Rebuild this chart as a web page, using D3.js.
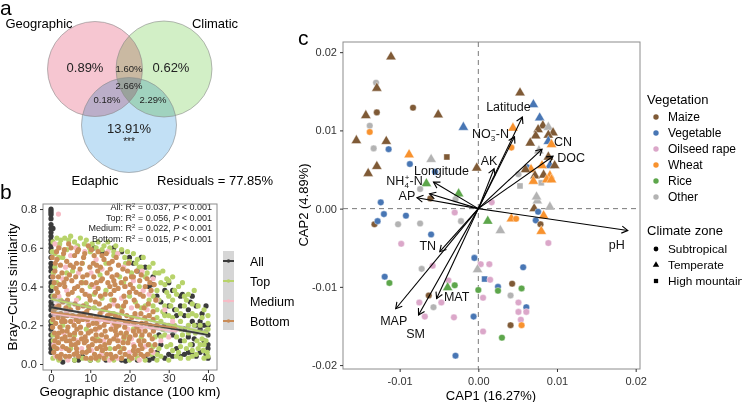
<!DOCTYPE html>
<html><head><meta charset="utf-8">
<script src="https://cdn.jsdelivr.net/npm/d3@7"></script>
<style>
body{margin:0;background:#fff;}
svg{font-family:"Liberation Sans",Arial,sans-serif;}
</style></head><body>
<svg id="fig" width="742" height="402"></svg>
<script>
// ---------------- DATA ----------------
// Panel a: variation partitioning
const vennSets = ["Geographic", "Climatic", "Edaphic"];
const vennRegions = ["G", "C", "E", "GC", "GE", "CE", "GCE"];
const vennPercents = [0.89, 0.62, 13.91, 1.60, 0.18, 2.29, 2.66];
const edaphicSig = "***";
const residualPct = 77.85;

// Panel b: distance-decay
const ddSeries = ["All", "Top", "Medium", "Bottom"];
const ddR2 = [0.037, 0.056, 0.022, 0.015];
const ddFitStart = [0.293, 0.335, 0.262, 0.268];
const ddFitEnd = [0.150, 0.160, 0.167, 0.186];
const ddFitXmax = [40, 40, 32, 32];
const ddCI = [[0.010, 0.004, 0.012], [0.014, 0.006, 0.016], [0.014, 0.006, 0.016], [0.014, 0.006, 0.016]];
const ddXTicks = [0, 10, 20, 30, 40];
const ddYTicks = [0, 0.2, 0.4, 0.6, 0.8];

const allPts = [
[0,0.80],[0,0.79],[0,0.78],[0,0.77],[0,0.75],[0,0.72],[0,0.70],[0,0.68],[0,0.66],[0,0.64],[0,0.62],[0,0.60],[0,0.58],[0,0.55],[0,0.52],[0,0.50],[0,0.48],[0,0.45],[0,0.42],[0,0.40],[0,0.38],[0,0.35],[0,0.32],[0,0.30],[0,0.28],[0,0.25],[0,0.22],[0,0.20],[0,0.18],[0,0.15],[0,0.12],[0,0.10],[0,0.08],[0,0.06],
[30,0.42],[31,0.38],[33,0.30],[34,0.25],[35,0.28],[36,0.22],[37,0.30],[38,0.18],[39,0.12],[40,0.08],[40,0.10],[39.5,0.05],[38,0.06],[36,0.10],[35,0.14],[33,0.12],[32,0.08],[30,0.05],[28,0.10],[27,0.35],[26,0.45],[24,0.50],[22,0.48],[20,0.55],[18,0.58],[16,0.60],[29,0.20],[31,0.15],[26,0.03],[22,0.02],[18,0.02],[14,0.02],[10,0.02],[6,0.02],[3,0.01],[2,0.03],[24,0.04],[20,0.03],[12,0.03],[8,0.04],[16,0.03],[34,0.05],[37,0.04],[36,0.35],[23,0.55],[21,0.52],[25,0.40],[28,0.32],[29,0.38],[32,0.25],[34,0.18],[38,0.22],[35,0.06],[40,0.15],[39,0.20],[40,0.03],[36.5,0.13],[33.5,0.36],[31.5,0.28],[27.5,0.15],[11,0.6],[13,0.58],[7,0.02],[19,0.015],[25,0.02],
[0.5,0.7],[0.5,0.5],[0.4,0.3],[0.5,0.1],[33,0.35],[35.5,0.32],[37,0.2],[38.5,0.26],[39.5,0.3],[40,0.2],[36,0.05],[33,0.04],[31,0.04],[29,0.03],[27,0.06],[30,0.3],[31,0.19],[29,0.26],[26,0.41]
];
const topPts = [
[0.5,0.63],[1.5,0.65],[2.5,0.64],[3.5,0.65],[4.5,0.64],[6,0.63],[7.5,0.65],[9,0.64],[10.5,0.62],[12,0.63],[13.5,0.61],[15,0.60],[16.5,0.61],[18,0.59],[19.5,0.58],[21,0.57],[22,0.54],[23.5,0.55],[25,0.50],[26,0.52],[27.5,0.47],[28.5,0.48],[30,0.43],[31,0.45],[32.5,0.40],[33.5,0.42],[35,0.36],[36.5,0.38],[37.5,0.30],[39,0.28],[40,0.25],[40,0.21],
[26,0.35],[27,0.28],[28,0.22],[29,0.30],[30,0.25],[31,0.33],[31.5,0.20],[32,0.28],[33,0.22],[33.5,0.15],[34,0.30],[35,0.20],[35.5,0.10],[36,0.26],[36.8,0.16],[37.5,0.08],[38,0.20],[38.5,0.13],[39,0.10],[39.5,0.17],[40,0.04],[39,0.03],[37,0.05],[34.5,0.08],[32.5,0.06],[30.5,0.10],[29,0.15],[27.5,0.08],[26.5,0.14],[25.5,0.05],
[0.5,0.03],[2,0.02],[4,0.03],[6,0.02],[8,0.03],[10,0.02],[12,0.02],[14,0.03],[16,0.02],[18,0.03],[20,0.02],[22,0.03],[24,0.02],[1,0.08],[9.5,0.07],[18,0.08],[28,0.04],
[1,0.50],[3,0.55],[5.5,0.48],[8,0.52],[10,0.58],[12.5,0.46],[14,0.52],[16,0.56],[17.5,0.45],[19,0.52],[20.5,0.47],[22.5,0.50],[24,0.45],[0.5,0.35],[2.5,0.33],[4.5,0.30],[7,0.34],[9,0.31],[11,0.29],[13,0.34],[15.5,0.33],[18,0.29],[20,0.35],[21.5,0.32],[23,0.29],[25,0.33],[27,0.38],[28,0.42],[3,0.20],[6,0.15],[9,0.18],[11.8,0.13],[15,0.08],[18.5,0.13],[21,0.18],[23,0.14],[25,0.25],[26.8,0.19],[29.5,0.37],[0.6,0.12],[0.3,0.22],[0.4,0.40],[0.3,0.58],
[2,0.61],[5,0.66],[8.5,0.62],[11.5,0.6],[14.5,0.63],[17,0.57],[20,0.53],[24.5,0.47],[29.5,0.44],[32,0.36],[34.5,0.33],[37,0.25],[38.8,0.07],[36,0.04],[33,0.03],[30,0.02],[27,0.02],[29,0.25],[30.5,0.3],[27.5,0.33],[33,0.18],[35,0.25],
[1,0.57],[2.2,0.62],[4,0.59],[6.8,0.61],[9.8,0.6],[13,0.59],[16,0.58],[18.8,0.55],[21.6,0.52],[23,0.5],[26.5,0.47],[29,0.41],[31.5,0.38],[34,0.35],[36,0.31],[38.5,0.24],[40,0.18],[39.5,0.12],[38,0.1],[36.5,0.2],[35,0.16],[33,0.26],[31,0.24],[30,0.35],[28.5,0.27],[27,0.24],[28.5,0.18],[30,0.2],[32,0.14],[34,0.12],[36,0.07],[33,0.09],[31,0.07],[29.5,0.09],[28,0.14],[26,0.09],[27,0.05],[0.5,0.15],[0.8,0.28],[0.6,0.47],[1.5,0.42],[5,0.08],[13,0.06],[21.5,0.05],[25,0.1],[24,0.3],[26,0.3],[8,0.42],[11,0.36],[16,0.26],[19,0.15],[4,0.47],[10,0.4],[14,0.38],[18.5,0.42],[22.5,0.4],[2,0.55],[37.2,0.12],[39.8,0.06],[35,0.03],[32,0.04]
];
const medPts = [
[1.9,0.774],[1,0.62],[2,0.60],[3,0.44],[5,0.56],[7,0.47],[8.6,0.58],[11.5,0.54],[13,0.49],[15.5,0.45],[17,0.57],[19,0.40],[21,0.43],[23.5,0.38],[25,0.36],[27,0.33],[29,0.28],[31,0.22],[32,0.18],[30,0.14],[28,0.12],[26,0.06],[24,0.09],[2,0.35],[4,0.38],[6.5,0.33],[9,0.36],[11,0.40],[13,0.27],[16,0.31],[18,0.34],[20.5,0.29],[22,0.24],[1,0.25],[3.2,0.16],[5.5,0.22],[7.8,0.08],[9.4,0.22],[11.8,0.18],[13.4,0.12],[15.8,0.20],[17.5,0.12],[19.6,0.18],[21,0.10],[23,0.18],[25.6,0.19],[1.2,0.04],[4.3,0.02],[6.8,0.12],[10.3,0.07],[12.8,0.05],[14.9,0.02],[17,0.03],[20,0.06],[22.5,0.02],[0.7,0.10],[2.7,0.08],[0.5,0.45],[3.7,0.50],[6.3,0.60],[10.2,0.47],[14.5,0.58],[18.5,0.50],[23.2,0.48],[26,0.44],[1.5,0.3],[4,0.27],[8,0.26],[12,0.22],[16.5,0.14],[20.5,0.13],[24.5,0.28]
];
const botPts = [
[2,0.60],[4.5,0.62],[7,0.59],[9.5,0.61],[12,0.58],[3.2,0.57],[6,0.56],
[1.5,0.54],[4,0.53],[8.3,0.55],[10.8,0.52],[13.5,0.54],[15.6,0.53],[17.2,0.51],[5.7,0.50],
[1,0.48],[2.8,0.47],[7.4,0.49],[9.2,0.46],[11.9,0.48],[14.3,0.47],[16.8,0.46],[19.5,0.48],[21,0.45],[3.9,0.44],
[0.8,0.42],[2.2,0.41],[5.3,0.43],[6.8,0.40],[8.9,0.42],[10.4,0.41],[12.7,0.43],[15,0.40],[17.9,0.42],[20.2,0.41],[22.6,0.43],[24,0.40],
[1.7,0.37],[4.4,0.36],[7.9,0.38],[9.8,0.35],[11.3,0.37],[13.8,0.36],[16.1,0.38],[18.6,0.35],[21.7,0.37],[23.5,0.35],[25.5,0.38],
[3,0.32],[6.1,0.31],[10,0.33],[14.9,0.30],[19,0.32],[24.8,0.31],
[0.6,0.27],[2.5,0.26],[5,0.28],[7.2,0.25],[9.1,0.27],[11.6,0.24],[13.2,0.28],[16.4,0.25],[18.1,0.27],[20.6,0.24],[22.9,0.26],[26,0.27],
[1.2,0.21],[3.6,0.22],[5.9,0.20],[8.1,0.23],[10.7,0.21],[12.4,0.19],[14.6,0.22],[17.3,0.20],[19.8,0.22],[21.9,0.19],[24.2,0.21],[27,0.20],
[0.9,0.16],[2.9,0.17],[4.8,0.15],[6.6,0.18],[8.7,0.14],[10.2,0.17],[12.9,0.15],[15.3,0.18],[17.8,0.16],[20.1,0.14],[22.4,0.17],[25.1,0.15],
[1.9,0.11],[3.9,0.12],[6.2,0.10],[7.8,0.13],[9.6,0.09],[11.4,0.12],[13.7,0.10],[16,0.13],[18.4,0.11],[21.2,0.09],[23.7,0.12],[26.5,0.10],
[0.7,0.06],[2.6,0.05],[4.6,0.07],[7,0.04],[9,0.06],[11.1,0.05],[13.1,0.07],[15.2,0.05],[17.6,0.06],[19.9,0.04],[22.2,0.07],[24.6,0.05],
[1.4,0.58],[5.1,0.60],[8.6,0.57],[11,0.56],[14.1,0.57],[2.4,0.51],[6.5,0.52],[9.9,0.50],[12.6,0.50],[15.1,0.49],[18.3,0.49],[0.5,0.45],[4.7,0.46],[8.1,0.45],[13.1,0.44],[16,0.43],[19,0.44],[23,0.46],[1.3,0.39],[3.5,0.40],[6,0.39],[12,0.39],[14.5,0.42],[17.1,0.39],[20.9,0.39],[26.3,0.41],[2,0.30],[8.2,0.30],[12.3,0.31],[17,0.30],[22,0.30],[1.8,0.24],[4.1,0.25],[6.4,0.23],[10.1,0.25],[15.2,0.26],[19.3,0.25],[23.9,0.24],[0.4,0.19],[2.3,0.19],[4.3,0.19],[7.5,0.19],[9.6,0.20],[13.5,0.20],[16.2,0.21],[18.8,0.19],[23.1,0.21],[26,0.23],[1.6,0.14],[3.6,0.14],[5.8,0.13],[7.6,0.16],[11.5,0.15],[14.1,0.14],[16.7,0.15],[19.2,0.16],[21.5,0.15],[24,0.17],[0.8,0.09],[3,0.09],[5.2,0.10],[8.5,0.11],[10.5,0.10],[12.6,0.09],[14.8,0.11],[17.2,0.09],[19.6,0.11],[22.8,0.10],[25.8,0.13],[1.6,0.04],[3.7,0.04],[5.9,0.05],[8,0.06],[10.2,0.03],[12.3,0.04],[14.2,0.05],[16.5,0.04],[18.9,0.05],[21.4,0.05],[23.6,0.04],
[0.3,0.55],[3.4,0.59],[6.7,0.58],[10.3,0.59],[13,0.56],[16.6,0.55],[19.8,0.52],[1.1,0.52],[4.9,0.51],[7.9,0.52],[11.6,0.51],[14.8,0.52],[21.8,0.48],[24.5,0.44],[1.9,0.45],[6.3,0.45],[10.9,0.45],[15.6,0.45],[20.5,0.45],[3.3,0.42],[7.7,0.42],[11.6,0.42],[16.3,0.41],[18.8,0.40],[25.2,0.42],[0.9,0.35],[5.4,0.37],[8.7,0.36],[12.6,0.35],[15.2,0.36],[20,0.37],[22.7,0.36],[4.2,0.33],[11.3,0.32],[16.1,0.33],[21.2,0.33],[26.7,0.33],[1.3,0.29],[3.8,0.29],[6.9,0.29],[9.7,0.29],[14,0.29],[18.5,0.3],[23.7,0.29],[3.1,0.24],[5.5,0.25],[8.4,0.26],[12.5,0.26],[14.4,0.25],[17.4,0.24],[21.4,0.26],[25,0.25],[0.5,0.23],[2.7,0.22],[5,0.22],[7,0.22],[9.3,0.23],[11.6,0.21],[13.9,0.22],[16.6,0.19],[19,0.21],[21.1,0.21],[25.3,0.2],[2,0.16],[4.1,0.17],[6,0.16],[9.5,0.16],[11.3,0.18],[13.8,0.17],[16.4,0.17],[18.6,0.14],[21,0.17],[23.2,0.15],[26.1,0.17],[1,0.12],[2.8,0.13],[4.8,0.12],[6.9,0.11],[9,0.12],[10.6,0.13],[12.5,0.12],[15,0.12],[17,0.12],[19.9,0.13],[22.4,0.12],[24.8,0.1],[1.5,0.08],[3.9,0.08],[6.5,0.08],[9.7,0.07],[11.7,0.08],[13.9,0.08],[16.3,0.08],[18.6,0.08],[21,0.07],[23.2,0.08],[25.5,0.07],[2.3,0.03],[4.7,0.04],[6.6,0.06],[8.9,0.03],[11.4,0.03],[13.5,0.03],[15.6,0.03],[18,0.03],[20.6,0.03],[22.9,0.05]
];

// Panel c: CAP ordination
const vegetation = ["Maize", "Vegetable", "Oilseed rape", "Wheat", "Rice", "Other"];
const climateZones = ["Subtropical", "Temperate", "High mountain"];
// [CAP1, CAP2, vegetation index, climate zone index]
const capSamples = [
[-0.0111,0.0194,0,1],[-0.0130,0.0161,5,0],[-0.0129,0.0154,0,1],[-0.0083,0.0129,0,0],[-0.0143,0.0119,0,1],[-0.0129,0.0123,0,0],[-0.0051,0.0120,0,1],[-0.0138,0.0106,5,0],[-0.0138,0.0098,3,0],[-0.0019,0.0104,1,1],
[-0.0155,0.0087,0,1],[-0.0117,0.0086,0,1],[-0.0133,0.0077,5,0],[-0.0114,0.0076,1,0],[-0.0088,0.0069,3,1],[-0.0060,0.0063,5,1],[-0.0040,0.0066,0,2],[-0.0087,0.0057,1,0],[-0.0129,0.0054,0,1],[-0.0140,0.0045,0,1],
[-0.0002,0.0052,0,1],[-0.0055,0.0047,1,0],[-0.0066,0.0032,4,1],[-0.0074,0.0025,5,0],[-0.0061,0.0013,0,0],[-0.0025,0.0019,4,1],[-0.0029,0.0012,5,0],[-0.0124,0.0008,1,0],[-0.0030,-0.0005,2,0],[-0.0120,-0.0007,1,0],
[-0.0092,-0.0009,1,0],[-0.0132,-0.0020,0,0],[-0.0128,-0.0016,1,0],[-0.0102,-0.0020,5,0],[-0.0074,-0.0019,5,0],[-0.0022,-0.0016,5,0],[0.0012,-0.0016,4,1],[-0.0060,-0.0033,1,0],[-0.0098,-0.0045,2,0],[-0.0005,-0.0063,1,0],
[0.0003,-0.0071,2,0],[0.0014,-0.0071,2,0],[-0.0072,-0.0077,5,0],[-0.0058,-0.0073,2,0],[-0.0001,-0.0078,5,1],[0.0008,-0.0090,1,2],[0.0015,-0.0091,2,0],[-0.0119,-0.0087,1,0],[-0.0113,-0.0095,4,0],[-0.0038,-0.0092,2,0],
[-0.0030,-0.0098,4,0],[-0.0039,-0.0101,4,1],[0.0000,-0.0104,4,0],[-0.0063,-0.0111,0,0],[-0.0075,-0.0120,2,0],[-0.0047,-0.0120,2,0],[-0.0057,-0.0126,5,0],[0.0006,-0.0114,2,0],[-0.0068,-0.0138,2,0],[-0.0031,-0.0139,2,0],
[-0.0006,-0.0138,1,0],[0.0006,-0.0157,2,0],[-0.0029,-0.0188,1,0],[0.0017,0.0008,2,0],[0.0071,0.0000,0,1],[0.0075,0.0010,5,1],[0.0091,0.0002,5,1],[0.0076,-0.0004,1,0],[0.0083,-0.0009,3,1],[0.0042,-0.0013,3,1],
[0.0048,-0.0013,3,0],[0.0073,-0.0015,1,0],[0.0079,-0.0020,0,0],[0.0028,-0.0028,5,1],[0.0080,-0.0029,3,1],[0.0089,-0.0044,2,0],[0.0057,-0.0075,1,0],[0.0043,-0.0096,0,0],[0.0025,-0.0100,1,0],[0.0025,-0.0105,4,0],
[0.0055,-0.0102,4,0],[0.0041,-0.0111,5,0],[0.0051,-0.0120,2,0],[0.0061,-0.0126,1,0],[0.0051,-0.0132,2,0],[0.0061,-0.0132,2,0],[0.0054,-0.0142,2,0],[0.0041,-0.0149,0,0],[0.0055,-0.0149,3,0],[0.0030,-0.0165,4,0],
[0.0053,0.0148,0,1],[0.0070,0.0133,1,1],[0.0078,0.0116,1,1],[0.0044,0.0103,3,1],[0.0082,0.0106,0,1],[0.0089,0.0104,5,1],[0.0076,0.0101,0,1],[0.0095,0.0097,0,1],[0.0073,0.0093,0,1],[0.0089,0.0094,0,1],
[0.0066,0.0084,0,1],[0.0089,0.0086,1,1],[0.0093,0.0082,3,1],[0.0042,0.0078,3,0],[0.0077,0.0074,5,1],[0.0089,0.0066,0,1],[0.0091,0.0055,1,1],[0.0097,0.0055,0,1],[0.0081,0.0055,3,1],[0.0062,0.0053,1,0],
[0.0067,0.0050,3,1],[0.0060,0.0050,0,1],[0.0051,0.0044,5,0],[0.0072,0.0042,0,1],[0.0083,0.0043,0,1],[0.0091,0.0042,3,1],[0.0070,0.0035,3,1],[0.0080,0.0033,5,2],[0.0087,0.0037,3,1],[0.0093,0.0037,3,1],
[0.0053,0.0029,5,2],[0.0074,0.0015,5,1]
];
const envVars = ["Latitude", "NO3-N", "AK", "CN", "DOC", "pH", "Longitude", "NH4-N", "AP", "TN", "MAP", "SM", "MAT"];
const envCAP1 = [0.0056, 0.0046, 0.0020, 0.0081, 0.0095, 0.0190, -0.0057, -0.0062, -0.0078, -0.0049, -0.0105, -0.0076, -0.0053];
const envCAP2 = [0.0117, 0.0092, 0.0051, 0.0076, 0.0067, -0.0028, 0.0034, 0.0019, 0.0014, -0.0055, -0.0128, -0.0136, -0.0115];
const capXTicks = [-0.01, 0, 0.01, 0.02];
const capYTicks = [-0.02, -0.01, 0, 0.01, 0.02];

// ---------------- STYLE ----------------
const svg = d3.select("#fig");
const FONT = "'Liberation Sans', Arial, sans-serif";
const frameCol = "#8c8c8c";
const tickTextCol = "#333";

function fmtMinus(f) { return d => f(d).replace("\u2212", "-"); }

// ---------------- PANEL A (Venn) ----------------
const gA = svg.append("g");
gA.append("text").attr("x", 0).attr("y", 15).attr("font-size", 21).text("a");
const circ = [
  {cx: 95, cy: 69, r: 47.5, fill: "#f6c6d1"},
  {cx: 164, cy: 69, r: 48, fill: "#d2efc6"},
  {cx: 129, cy: 125, r: 47.5, fill: "#c2e0f5"}
];
gA.selectAll("circle.v").data(circ).join("circle")
  .attr("cx", d => d.cx).attr("cy", d => d.cy).attr("r", d => d.r)
  .attr("fill", d => d.fill).style("mix-blend-mode", "multiply");
gA.selectAll("circle.o").data(circ).join("circle")
  .attr("cx", d => d.cx).attr("cy", d => d.cy).attr("r", d => d.r)
  .attr("fill", "none").attr("stroke", "#8a8a8a").attr("stroke-width", 0.6);
const vennPos = {G: [85, 72, 13], C: [171, 72, 13], E: [129, 133, 13], GC: [129, 72, 9.5], GE: [107, 103, 9.5], CE: [153, 103, 9.5], GCE: [129, 89, 9.5]};
vennRegions.forEach((r, i) => {
  const p = vennPos[r];
  gA.append("text").attr("x", p[0]).attr("y", p[1]).attr("font-size", p[2])
    .attr("text-anchor", "middle").attr("fill", "#222").text(vennPercents[i].toFixed(2) + "%");
});
gA.append("text").attr("x", 129).attr("y", 145).attr("font-size", 10).attr("text-anchor", "middle").attr("fill", "#222").text(edaphicSig);
gA.append("text").attr("x", 39).attr("y", 28).attr("font-size", 13).attr("text-anchor", "middle").text(vennSets[0]);
gA.append("text").attr("x", 215).attr("y", 28).attr("font-size", 13).attr("text-anchor", "middle").text(vennSets[1]);
gA.append("text").attr("x", 95).attr("y", 185).attr("font-size", 13).attr("text-anchor", "middle").text(vennSets[2]);
gA.append("text").attr("x", 157).attr("y", 185).attr("font-size", 13).text("Residuals = " + residualPct.toFixed(2) + "%");

// ---------------- PANEL B ----------------
const gB = svg.append("g");
gB.append("text").attr("x", 0).attr("y", 199).attr("font-size", 21).text("b");
const bx = d3.scaleLinear().domain([-2.04, 42.3]).range([43, 217]);
const by = d3.scaleLinear().domain([-0.031, 0.826]).range([370, 204]);
const ddColors = ["#3b3b3b", "#b8d36b", "#f6bcc6", "#c98c58"];
const ptsBySeries = [allPts, topPts, medPts, botPts];
const clipB = svg.append("defs").append("clipPath").attr("id", "clipB");
clipB.append("rect").attr("x", 43).attr("y", 204).attr("width", 174).attr("height", 166);
const plotB = gB.append("g").attr("clip-path", "url(#clipB)");
ptsBySeries.forEach((pts, si) => {
  plotB.append("g").selectAll("circle").data(pts).join("circle")
    .attr("cx", d => bx(d[0])).attr("cy", d => by(d[1])).attr("r", 2.6)
    .attr("fill", ddColors[si]);
});
// ribbons and lines
ddSeries.forEach((s, i) => {
  const x0 = 0, x1 = ddFitXmax[i], xm = (x0 + x1) / 2;
  const f = x => ddFitStart[i] + (ddFitEnd[i] - ddFitStart[i]) * (x - x0) / (x1 - x0);
  const ci = ddCI[i];
  const xs = d3.range(0, 21).map(k => x0 + (x1 - x0) * k / 20);
  const hw = x => { const t = (x - xm) / (x1 - xm); return ci[1] + (ci[0] - ci[1]) * t * t; };
  plotB.append("path").datum(xs)
    .attr("d", d3.area().x(d => bx(d)).y0(d => by(f(d) - hw(d))).y1(d => by(f(d) + hw(d))))
    .attr("fill", "#9a9a9a").attr("opacity", 0.45);
});
ddSeries.forEach((s, i) => {
  plotB.append("line").attr("x1", bx(0)).attr("x2", bx(ddFitXmax[i]))
    .attr("y1", by(ddFitStart[i])).attr("y2", by(ddFitEnd[i]))
    .attr("stroke", ddColors[i]).attr("stroke-width", 1.8);
});
// annotations
ddSeries.forEach((s, i) => {
  const t = gB.append("text").attr("x", 212).attr("y", 210 + i * 10.7).attr("font-size", 9).attr("text-anchor", "end").attr("fill", "#222");
  t.append("tspan").text(s + ": R");
  t.append("tspan").attr("font-size", 6).attr("dy", -3).text("2");
  t.append("tspan").attr("dy", 3).text(" = " + ddR2[i].toFixed(3) + ", ");
  t.append("tspan").attr("font-style", "italic").text("P");
  t.append("tspan").text(" < 0.001");
});
gB.append("rect").attr("x", 43).attr("y", 204).attr("width", 174).attr("height", 166).attr("fill", "none").attr("stroke", frameCol).attr("stroke-width", 1);
const axBL = gB.append("g").attr("transform", "translate(43,0)")
  .call(d3.axisLeft(by).tickValues(ddYTicks).tickSize(3).tickPadding(3).tickFormat(d3.format(".1f")));
const axBB = gB.append("g").attr("transform", "translate(0,370)")
  .call(d3.axisBottom(bx).tickValues(ddXTicks).tickSize(3).tickPadding(1).tickFormat(d3.format("d")));
[axBL, axBB].forEach(a => {
  a.select(".domain").remove();
  a.selectAll(".tick line").attr("stroke", "#333");
  a.selectAll(".tick text").attr("font-size", 11.5).attr("fill", tickTextCol).attr("font-family", FONT);
});
gB.append("text").attr("x", 130).attr("y", 396).attr("font-size", 13.5).attr("text-anchor", "middle").text("Geographic distance (100 km)");
gB.append("text").attr("transform", "translate(17,287) rotate(-90)").attr("font-size", 13.5).attr("text-anchor", "middle").text("Bray\u2212Curtis similarity");
// legend b
gB.append("rect").attr("x", 223).attr("y", 251).attr("width", 11).attr("height", 79).attr("fill", "#d6d6d6");
ddSeries.forEach((s, i) => {
  const y = 261 + i * 20;
  gB.append("line").attr("x1", 223).attr("x2", 234).attr("y1", y).attr("y2", y).attr("stroke", ddColors[i]).attr("stroke-width", 2);
  gB.append("circle").attr("cx", 228.5).attr("cy", y).attr("r", 1.8).attr("fill", ddColors[i]);
  gB.append("text").attr("x", 250).attr("y", y + 4.5).attr("font-size", 12.5).text(s);
});

// ---------------- PANEL C ----------------
const gC = svg.append("g");
gC.append("text").attr("x", 298).attr("y", 45).attr("font-size", 21).text("c");
const cx = d3.scaleLinear().domain([-0.0172, 0.02055]).range([343, 640]);
const cy = d3.scaleLinear().domain([-0.0205, 0.0213]).range([369, 42]);
const vegColors = ["#7f5a36", "#4876b4", "#dba7c9", "#f8922e", "#5da64b", "#b3b3b3"];
const shapes = [d3.symbolCircle, d3.symbolTriangle, d3.symbolSquare];
const shapeSize = [34, 46, 36];
gC.append("rect").attr("x", 343).attr("y", 42).attr("width", 297).attr("height", 327).attr("fill", "none").attr("stroke", frameCol).attr("stroke-width", 1);
gC.append("line").attr("x1", cx(0)).attr("x2", cx(0)).attr("y1", 42).attr("y2", 369).attr("stroke", "#7a7a7a").attr("stroke-dasharray", "5,4").attr("stroke-width", 1);
gC.append("line").attr("x1", 343).attr("x2", 640).attr("y1", cy(0)).attr("y2", cy(0)).attr("stroke", "#7a7a7a").attr("stroke-dasharray", "5,4").attr("stroke-width", 1);
gC.append("g").selectAll("path").data(capSamples).join("path")
  .attr("transform", d => `translate(${cx(d[0])},${cy(d[1])})`)
  .attr("d", d => d3.symbol(shapes[d[3]], shapeSize[d[3]])())
  .attr("fill", d => vegColors[d[2]]).attr("stroke", "#fff").attr("stroke-width", 0.4);
// arrows
const ox = cx(0), oy = cy(0);
envVars.forEach((v, i) => {
  const tx = cx(envCAP1[i]), ty = cy(envCAP2[i]);
  const ang = Math.atan2(ty - oy, tx - ox);
  gC.append("line").attr("x1", ox).attr("y1", oy).attr("x2", tx).attr("y2", ty).attr("stroke", "#000").attr("stroke-width", 1.1);
  const L = 7, a = Math.PI / 6;
  const p1 = [tx - L * Math.cos(ang - a), ty - L * Math.sin(ang - a)];
  const p2 = [tx - L * Math.cos(ang + a), ty - L * Math.sin(ang + a)];
  gC.append("path").attr("d", `M${p1[0]},${p1[1]}L${tx},${ty}L${p2[0]},${p2[1]}`).attr("fill", "none").attr("stroke", "#000").attr("stroke-width", 1.1);
});
// labels (pixel offsets from arrow tips are styling)
const labOff = {"Latitude": [-14, -6], "NO3-N": [-24, 1], "AK": [-5, -4], "CN": [21, -3], "DOC": [18, 6], "pH": [-11, 18], "Longitude": [8, -7], "NH4-N": [-25, -9], "AP": [-10, 2.5], "TN": [-12, -1.5], "MAP": [-2, 16], "SM": [-3, 22.5], "MAT": [20, 2]};
envVars.forEach((v, i) => {
  const o = labOff[v];
  const t = gC.append("text").attr("x", cx(envCAP1[i]) + o[0]).attr("y", cy(envCAP2[i]) + o[1]).attr("font-size", 12.5).attr("text-anchor", "middle").attr("fill", "#111");
  if (v === "NO3-N" || v === "NH4-N") {
    const base = v === "NO3-N" ? "NO" : "NH", sub = v === "NO3-N" ? "3" : "4", sup = v === "NO3-N" ? "\u2212" : "+";
    t.append("tspan").text(base);
    t.append("tspan").attr("font-size", 8).attr("dy", 3).text(sub);
    t.append("tspan").attr("font-size", 8).attr("dx", -4).attr("dy", -8).text(sup);
    t.append("tspan").attr("dy", 5).text("-N");
  } else t.text(v);
});
const axCL = gC.append("g").attr("transform", "translate(343,0)")
  .call(d3.axisLeft(cy).tickValues(capYTicks).tickSize(3).tickFormat(fmtMinus(d3.format(".2f"))));
const axCB = gC.append("g").attr("transform", "translate(0,369)")
  .call(d3.axisBottom(cx).tickValues(capXTicks).tickSize(3).tickFormat(fmtMinus(d3.format(".2f"))));
[axCL, axCB].forEach(a => {
  a.select(".domain").remove();
  a.selectAll(".tick line").attr("stroke", "#333");
  a.selectAll(".tick text").attr("font-size", 11).attr("fill", tickTextCol).attr("font-family", FONT);
});
axCB.selectAll(".tick text").attr("dy", "0.95em");
gC.append("text").attr("x", 491).attr("y", 400).attr("font-size", 13).attr("text-anchor", "middle").text("CAP1 (16.27%)");
gC.append("text").attr("transform", "translate(308,205) rotate(-90)").attr("font-size", 13).attr("text-anchor", "middle").text("CAP2 (4.89%)");
// legend c
gC.append("text").attr("x", 647).attr("y", 104).attr("font-size", 13).text("Vegetation");
vegetation.forEach((v, i) => {
  const y = 117 + i * 16;
  gC.append("circle").attr("cx", 656).attr("cy", y).attr("r", 2.7).attr("fill", vegColors[i]);
  gC.append("text").attr("x", 668).attr("y", y + 4.3).attr("font-size", 12).text(v);
});
gC.append("text").attr("x", 647).attr("y", 235).attr("font-size", 13).text("Climate zone");
climateZones.forEach((z, i) => {
  const y = 249 + i * 16;
  gC.append("path").attr("transform", `translate(656,${y})`).attr("d", d3.symbol(shapes[i], 18)()).attr("fill", "#000");
  gC.append("text").attr("x", 668).attr("y", y + 4.3).attr("font-size", 11.8).text(z);
});
</script>
</body></html>
